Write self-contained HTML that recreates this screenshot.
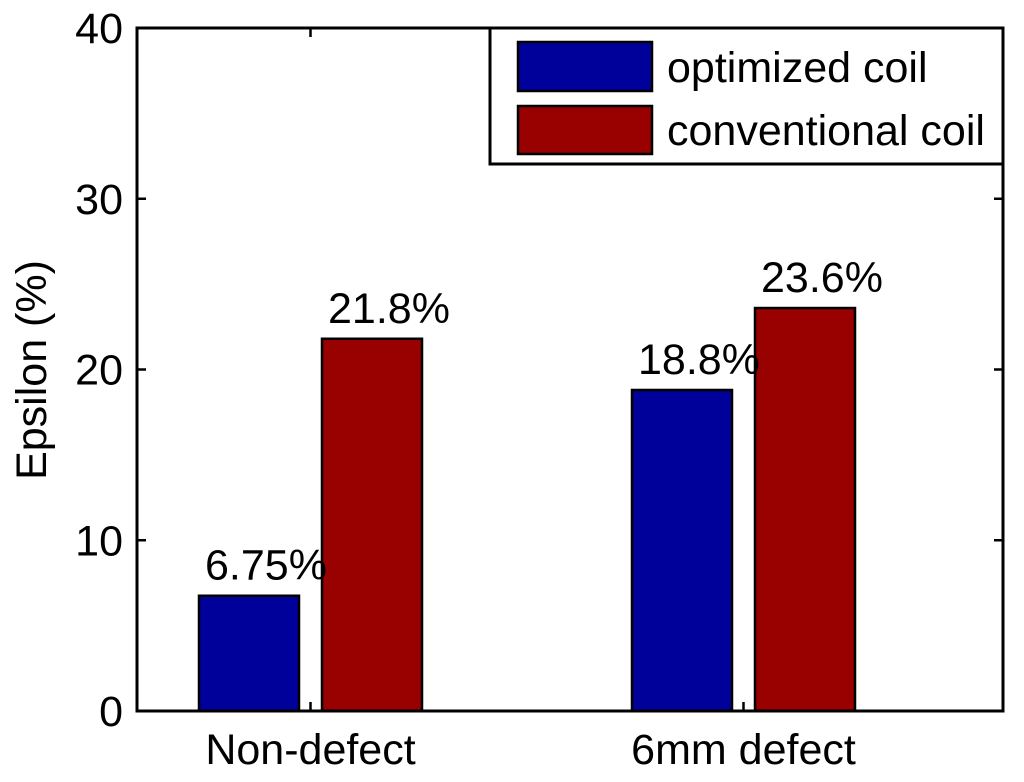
<!DOCTYPE html>
<html><head><meta charset="utf-8"><style>
html,body{margin:0;padding:0;background:#fff;}
svg text{font-family:"Liberation Sans",Arial,sans-serif;fill:#000;}
</style></head><body>
<svg id="chart" width="1024" height="777" xmlns="http://www.w3.org/2000/svg">
<rect x="0" y="0" width="1024" height="777" fill="#fff"/>
<g id="plot"></g>
</svg>
<script>
const categories = ["Non-defect", "6mm defect"];
const optimizedValues = [6.75, 18.8];
const conventionalValues = [21.8, 23.6];
const optimizedLabels = ["6.75%", "18.8%"];
const conventionalLabels = ["21.8%", "23.6%"];
const yTicks = [0, 10, 20, 30, 40];

const NS = "http://www.w3.org/2000/svg";
const g = document.getElementById('plot');
const L = 137, R = 1003, T = 28, B = 711, yMax = 40, FS = 43;
function y(v){ return B - (v / yMax) * (B - T); }
const catCenters = [310.5, 743.5];
function xCat(i){ return catCenters[i]; }
const barW = 100, gap = 23;
function mk(tag, attrs){ const e = document.createElementNS(NS, tag); for (const k in attrs) e.setAttribute(k, attrs[k]); g.appendChild(e); return e; }

categories.forEach((c, i) => {
  const cx = xCat(i);
  const bx1 = cx - gap/2 - barW, bx2 = cx + gap/2;
  let b1 = mk('rect', {x:bx1, y:y(optimizedValues[i]), width:barW, height:B-y(optimizedValues[i]), fill:'#00009a', stroke:'#000', 'stroke-width':2.5});
  
  
  let b2 = mk('rect', {x:bx2, y:y(conventionalValues[i]), width:barW, height:B-y(conventionalValues[i]), fill:'#990000', stroke:'#000', 'stroke-width':2.5});
  
  
  let l1 = mk('text', {x:bx1+6, y:y(optimizedValues[i])-16, 'font-size':FS});
  l1.textContent = optimizedLabels[i];
  
  
  let l2 = mk('text', {x:bx2+6, y:y(conventionalValues[i])-16, 'font-size':FS});
  l2.textContent = conventionalLabels[i];
  
  
  let tk = mk('line', {x1:cx, x2:cx, y1:B, y2:B-9, stroke:'#000', 'stroke-width':2.5});
  
  
  let tk2 = mk('line', {x1:cx, x2:cx, y1:T, y2:T+9, stroke:'#000', 'stroke-width':2.5});
  
  
  let tx = mk('text', {x:cx, y:764, 'text-anchor':'middle', 'font-size':FS});
  tx.textContent = c;
  
  
});

let ax = mk('rect', {x:L, y:T, width:R-L, height:B-T, fill:'none', stroke:'#000', 'stroke-width':3});



yTicks.forEach(v => {
  const yy = y(v);
  let t1 = mk('line', {x1:L, x2:L+9, y1:yy, y2:yy, stroke:'#000', 'stroke-width':2.5});
  
  
  let t2 = mk('line', {x1:R-9, x2:R, y1:yy, y2:yy, stroke:'#000', 'stroke-width':2.5});
  
  
  let tx = mk('text', {x:L-14, y:yy+15, 'text-anchor':'end', 'font-size':FS});
  tx.textContent = v;
  
  
});

let yl = mk('text', {x:0, y:0, 'text-anchor':'middle', 'font-size':FS, transform:'translate(46,370) rotate(-90)'});
yl.textContent = 'Epsilon (%)';



// legend
let lb = mk('rect', {x:490, y:28, width:513, height:136, fill:'#fff', stroke:'#000', 'stroke-width':3});


let s1 = mk('rect', {x:518, y:42, width:134, height:49, fill:'#00009a', stroke:'#000', 'stroke-width':2.5});


let s2 = mk('rect', {x:518, y:106, width:134, height:48, fill:'#990000', stroke:'#000', 'stroke-width':2.5});


let e1 = mk('text', {x:667, y:82, 'font-size':FS});
e1.textContent = 'optimized coil';


let e2 = mk('text', {x:667, y:145, 'font-size':FS});
e2.textContent = 'conventional coil';


</script>
</body></html>
